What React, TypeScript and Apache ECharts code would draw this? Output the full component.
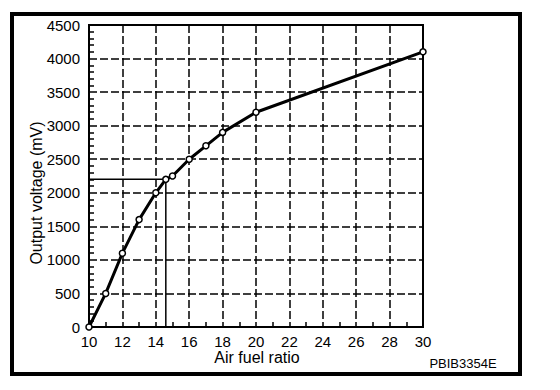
import React, { useEffect, useRef } from "react";
import * as echarts from "echarts";

const airFuelRatio = [10, 11, 12, 13, 14, 14.6, 15, 16, 17, 18, 20, 30];
const outputVoltage = [0, 500, 1100, 1600, 2000, 2200, 2250, 2500, 2700, 2900, 3200, 4100];
const refRatio = 14.6;
const refVoltage = 2200;
const xTitle = "Air fuel ratio";
const yTitle = "Output voltage (mV)";
const codeLabel = "PBIB3354E";

const FONT = "Liberation Sans, Arial, Helvetica, sans-serif";

export default function App() {
  const ref = useRef<HTMLDivElement>(null);
  useEffect(() => {
    if (!ref.current) return;
    const chart = echarts.init(ref.current, undefined, { renderer: "svg" });
    const split = { show: true, lineStyle: { color: "#000", width: 1.5, type: [8, 3] } };
    chart.setOption({
      animation: false,
      backgroundColor: "#fff",
      grid: {
        left: 89,
        right: 137,
        top: 25,
        bottom: 63,
        show: true,
        borderColor: "#000",
        borderWidth: 2,
        backgroundColor: "transparent",
      },
      xAxis: {
        type: "value",
        min: 10,
        max: 30,
        interval: 2,
        axisLine: { show: true, lineStyle: { color: "#000", width: 2 } },
        axisTick: { show: false, inside: true },
        minorTick: { show: true, splitNumber: 2, length: 5, lineStyle: { color: "#000", width: 1.5 } },
        axisLabel: {
          color: "#000",
          fontSize: 15,
          lineHeight: 14,
          fontFamily: FONT,
          margin: 7,
          formatter: (v: number) => String(v),
        },
        splitLine: split,
      },
      yAxis: {
        type: "value",
        min: 0,
        max: 4500,
        interval: 500,
        axisLine: { show: true, lineStyle: { color: "#000", width: 2 } },
        axisTick: { show: false, inside: true },
        minorTick: { show: true, splitNumber: 5, length: 5, lineStyle: { color: "#000", width: 1.5 } },
        axisLabel: {
          color: "#000",
          fontSize: 15,
          lineHeight: 14,
          fontFamily: FONT,
          margin: 9,
          formatter: (v: number) => String(v),
        },
        splitLine: split,
      },
      series: [
        {
          type: "line",
          data: [
            [airFuelRatio[0], refVoltage],
            [refRatio, refVoltage],
            [refRatio, 0],
          ],
          symbol: "none",
          lineStyle: { color: "#000", width: 1.5 },
          z: 2,
          silent: true,
        },
        {
          type: "line",
          data: airFuelRatio.map((x, i) => [x, outputVoltage[i]]),
          symbol: "circle",
          symbolSize: 6,
          showAllSymbol: true,
          lineStyle: { color: "#000", width: 3 },
          itemStyle: { color: "#fff", borderColor: "#000", borderWidth: 1.5 },
          z: 3,
        },
      ],
      graphic: [
        {
          type: "rect",
          shape: { x: 12, y: 14, width: 508, height: 360 },
          style: { fill: "none", stroke: "#000", lineWidth: 4 },
          silent: true,
        },
        {
          type: "text",
          x: 36,
          y: 193,
          rotation: Math.PI / 2,
          style: {
            text: yTitle,
            fontSize: 16,
            lineHeight: 16,
            fontFamily: FONT,
            fill: "#000",
            align: "center",
            verticalAlign: "middle",
          },
        },
        {
          type: "text",
          x: 257,
          y: 357,
          style: {
            text: xTitle,
            fontSize: 16,
            lineHeight: 15,
            fontFamily: FONT,
            fill: "#000",
            align: "center",
            verticalAlign: "middle",
          },
        },
        {
          type: "text",
          x: 463,
          y: 363,
          style: {
            text: codeLabel,
            fontSize: 13,
            lineHeight: 13,
            fontFamily: FONT,
            fill: "#000",
            align: "center",
            verticalAlign: "middle",
          },
        },
      ],
    });
    return () => chart.dispose();
  }, []);
  return (
    <div
      ref={ref}
      style={{ position: "fixed", left: 0, top: 0, width: 560, height: 390 }}
    />
  );
}
